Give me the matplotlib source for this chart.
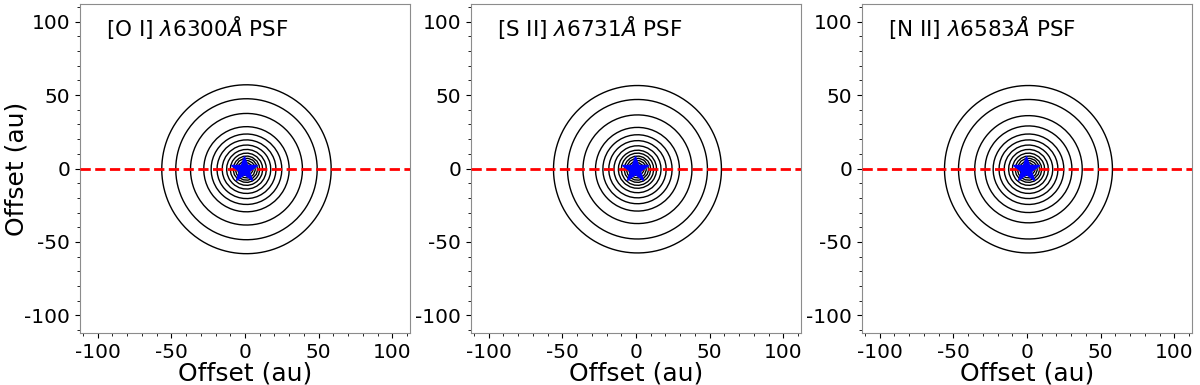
import numpy as np
import matplotlib
matplotlib.use("Agg")
import matplotlib.pyplot as plt
from matplotlib.ticker import MultipleLocator

plt.rcParams["axes.unicode_minus"] = False

TITLES = [r"[O I] $\lambda$6300$\AA$ PSF",
          r"[S II] $\lambda$6731$\AA$ PSF",
          r"[N II] $\lambda$6583$\AA$ PSF"]

# contour radii (au), inner -> outer
RADII_OI = [3, 4.5, 6, 7.5, 9, 11, 13.5, 16.5, 20, 24, 29, 38, 48, 57.5]
RADII_SII = [3, 4.5, 6, 7.5, 9, 11, 13, 16, 19.5, 23.5, 28.5, 37, 47.5, 57]
RADII_NII = [3, 4.5, 6, 7.5, 9, 11, 13.5, 16.5, 20, 24, 29.5, 36.5, 47.5, 57]
PSF_CENTER = (1.0, -0.5)
STAR_POS = (-1.0, 0.0)
LIMIT = 112

AXES_LEFT = [80, 471, 862]

fig = plt.figure(figsize=(12, 3.85), dpi=100)

grid = np.arange(-LIMIT, LIMIT + 0.1, 3.0)
X, Y = np.meshgrid(grid, grid)
R = np.hypot(X - PSF_CENTER[0], Y - PSF_CENTER[1])

for k, (title, radii) in enumerate(zip(TITLES, [RADII_OI, RADII_SII, RADII_NII])):
    ax = fig.add_axes([AXES_LEFT[k] / 1200, 1 - 333 / 385, 330 / 1200, 329 / 385])
    ax.contour(X, Y, R, levels=radii, colors="black", linewidths=1.0)
    ax.axhline(0, color="red", linestyle="--", linewidth=2, zorder=3)
    ax.plot(STAR_POS[0], STAR_POS[1], marker="*", color="blue",
            markersize=19, linestyle="none", zorder=4)
    ax.set_xlim(-LIMIT, LIMIT)
    ax.set_ylim(-LIMIT, LIMIT)
    ax.xaxis.set_major_locator(MultipleLocator(50))
    ax.yaxis.set_major_locator(MultipleLocator(50))
    ax.xaxis.set_minor_locator(MultipleLocator(10))
    ax.yaxis.set_minor_locator(MultipleLocator(10))
    ax.tick_params(labelsize=14.5)
    for sp in ax.spines.values():
        sp.set_color("0.55")
    ax.text(0.08, 0.93, title, transform=ax.transAxes, fontsize=15.5,
            va="center", ha="left")
    ax.set_xlabel("Offset (au)", fontsize=18, labelpad=0)
    if k == 0:
        ax.set_ylabel("Offset (au)", fontsize=18, labelpad=-3)

fig.savefig("out.png", dpi=100)
